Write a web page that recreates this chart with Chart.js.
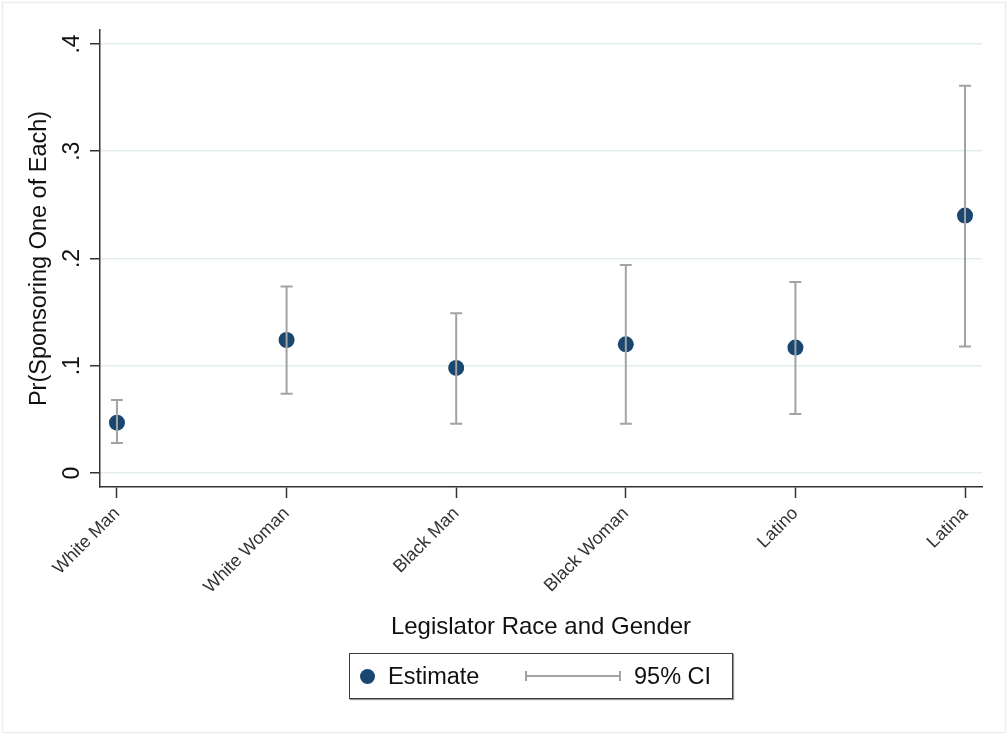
<!DOCTYPE html>
<html>
<head>
<meta charset="utf-8">
<script src="https://cdn.jsdelivr.net/npm/chart.js@4/dist/chart.umd.min.js"></script>
<style>
  html, body { margin: 0; padding: 0; background: #fff; }
  #wrap { position: relative; width: 1008px; height: 734px; }
  canvas { display: block; }
  #legend {
    position: absolute; left: 349px; top: 653px; width: 382px; height: 44px;
    border: 1.5px solid #3a3a3a; box-shadow: 1px 1px 1px #999;
    font-family: "Liberation Sans", Arial, sans-serif; font-size: 23.5px; color: #111;
    box-sizing: content-box;
  }
  #legend .dot { position: absolute; left: 10px; top: 15px; width: 15px; height: 15px; border-radius: 50%; background: #1a476f; }
  #legend .t1 { position: absolute; left: 38px; top: 9px; }
  #legend .ci { position: absolute; left: 175px; top: 17px; width: 96px; height: 10px;
    border-left: 2px solid #a3a3a3; border-right: 2px solid #a3a3a3; box-sizing: border-box; }
  #legend .ci::after { content: ""; position: absolute; left: 0; right: 0; top: 4px; height: 2px; background: #a3a3a3; }
  #legend .t2 { position: absolute; left: 284px; top: 9px; }
</style>
</head>
<body>
<div id="wrap">
  <canvas id="c" width="1008" height="734"></canvas>
  <div id="legend">
    <span class="dot"></span><span class="t1">Estimate</span>
    <span class="ci"></span><span class="t2">95% CI</span>
  </div>
</div>
<script>
// Predicted probability of sponsoring one of each, by legislator group
const categories = ['White Man', 'White Woman', 'Black Man', 'Black Woman', 'Latino', 'Latina'];
const estimates = [0.047, 0.124, 0.098, 0.120, 0.117, 0.240];
const ciLower = [0.028, 0.074, 0.046, 0.046, 0.055, 0.118];
const ciUpper = [0.068, 0.174, 0.149, 0.194, 0.178, 0.361];
const yTicks = [0, 0.1, 0.2, 0.3, 0.4];
const yTickLabels = ['0', '.1', '.2', '.3', '.4'];
const yTitle = 'Pr(Sponsoring One of Each)';
const xTitle = 'Legislator Race and Gender';

const FONT = '"Liberation Sans", Arial, sans-serif';
const NAVY = '#1a476f';
const CI_GREY = '#a3a3a3';

// Light frame around the whole graph region
const framePlugin = {
  id: 'frame',
  beforeDraw(chart) {
    const ctx = chart.ctx;
    ctx.save();
    ctx.fillStyle = '#fff';
    ctx.fillRect(0, 0, chart.width, chart.height);
    ctx.strokeStyle = '#e9eff1';
    ctx.lineWidth = 1.5;
    ctx.strokeRect(2.5, 2.5, chart.width - 5, chart.height - 4);
    ctx.restore();
  }
};

// Capped confidence intervals drawn on top of the point estimates
const ciPlugin = {
  id: 'ciBars',
  afterDatasetsDraw(chart) {
    const { ctx, scales: { x, y } } = chart;
    ctx.save();
    ctx.strokeStyle = CI_GREY;
    ctx.lineWidth = 2;
    categories.forEach((c, i) => {
      const px = x.getPixelForValue(i + 1);
      const lo = y.getPixelForValue(ciLower[i]);
      const hi = y.getPixelForValue(ciUpper[i]);
      ctx.beginPath();
      ctx.moveTo(px, lo); ctx.lineTo(px, hi);
      ctx.moveTo(px - 6, lo); ctx.lineTo(px + 6, lo);
      ctx.moveTo(px - 6, hi); ctx.lineTo(px + 6, hi);
      ctx.stroke();
    });
    ctx.restore();
  }
};

// Rotated y tick labels and both axis titles
const labelsPlugin = {
  id: 'axisLabels',
  afterDraw(chart) {
    const { ctx, scales: { y }, chartArea } = chart;
    ctx.save();
    ctx.fillStyle = '#111';
    ctx.textAlign = 'center';
    ctx.textBaseline = 'middle';
    ctx.font = '23px ' + FONT;
    yTicks.forEach((v, i) => {
      const py = y.getPixelForValue(v);
      ctx.save();
      ctx.translate(73, py);
      ctx.rotate(-Math.PI / 2);
      ctx.fillText(yTickLabels[i], 0, 0);
      ctx.restore();
    });
    ctx.font = '23.5px ' + FONT;
    ctx.save();
    ctx.translate(40, (chartArea.top + chartArea.bottom) / 2);
    ctx.rotate(-Math.PI / 2);
    ctx.fillText(yTitle, 0, 0);
    ctx.restore();
    ctx.font = '24px ' + FONT;
    ctx.fillText(xTitle, (chartArea.left + chartArea.right) / 2, 627);
    ctx.restore();
  }
};

new Chart(document.getElementById('c'), {
  type: 'scatter',
  data: {
    datasets: [{
      label: 'Estimate',
      data: categories.map((c, i) => ({ x: i + 1, y: estimates[i] })),
      pointRadius: 8,
      pointHoverRadius: 8,
      pointBackgroundColor: NAVY,
      pointBorderColor: NAVY,
      pointBorderWidth: 0
    }]
  },
  options: {
    responsive: false,
    animation: false,
    events: [],
    layout: { padding: { left: 0, top: 30, right: 26, bottom: 0 } },
    plugins: { legend: { display: false }, tooltip: { enabled: false } },
    scales: {
      x: {
        type: 'linear',
        min: 0.9,
        max: 6.1,
        afterBuildTicks(scale) { scale.ticks = categories.map((c, i) => ({ value: i + 1 })); },
        afterFit(scale) { scale.height = 247; },
        border: { color: '#333', width: 1.5 },
        grid: { drawOnChartArea: false, drawTicks: true, tickLength: 11, tickColor: '#333', tickWidth: 1.5 },
        ticks: {
          autoSkip: false,
          minRotation: 45,
          maxRotation: 45,
          padding: 5,
          color: '#333',
          font: { family: FONT, size: 18 },
          callback: (v) => categories[Math.round(v) - 1] || ''
        }
      },
      y: {
        min: -0.013,
        max: 0.413,
        afterBuildTicks(scale) { scale.ticks = yTicks.map(v => ({ value: v })); },
        afterFit(scale) { scale.width = 100; },
        border: { color: '#333', width: 1.5 },
        grid: { color: '#e4eef0', lineWidth: 1.5, drawTicks: true, tickLength: 10, tickColor: '#333', tickWidth: 1.5 },
        ticks: { display: false }
      }
    }
  },
  plugins: [framePlugin, ciPlugin, labelsPlugin]
});
</script>
</body>
</html>
